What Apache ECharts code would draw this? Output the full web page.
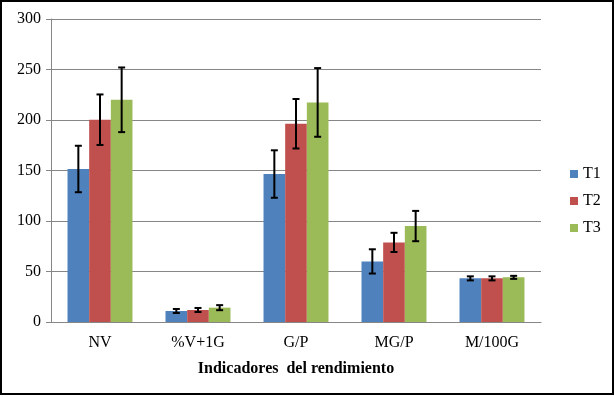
<!DOCTYPE html>
<html>
<head>
<meta charset="utf-8">
<script src="https://cdn.jsdelivr.net/npm/echarts@6/dist/echarts.min.js"></script>
<style>html,body{margin:0;padding:0;background:#fff}#c{width:615px;height:397px}</style>
</head>
<body>
<div id="c"></div>
<script>
var categories = ['NV', '%V+1G', 'G/P', 'MG/P', 'M/100G'];
var seriesNames = ['T1', 'T2', 'T3'];
var t1 = [151.5, 10.9, 146.5, 60, 43.2];
var t2 = [200.3, 11.9, 196.3, 78.8, 43.2];
var t3 = [220, 14.2, 217.4, 95, 44.2];
var err1 = [23, 2, 23.5, 12, 2];
var err2 = [25, 2, 24.5, 9.5, 2];
var err3 = [32, 2.5, 34, 15, 1.5];
var yTicks = [0, 50, 100, 150, 200, 250, 300];

var colors = ['#4F81BD', '#C0504D', '#9BBB59'];
var values = [t1, t2, t3];
var errors = [err1, err2, err3];
var catGap = 0.337;
var font = '"Liberation Serif", "Times New Roman", serif';

var series = [];
values.forEach(function (v, i) {
  series.push({
    name: seriesNames[i], type: 'bar', data: v,
    barGap: '0%', barCategoryGap: (catGap * 100) + '%',
    itemStyle: { color: colors[i] }, z: 2
  });
});
values.forEach(function (v, i) {
  var d = v.map(function (val, k) { return [k, val, errors[i][k]]; });
  series.push({
    type: 'custom', name: seriesNames[i] + '_err', data: d, z: 5,
    tooltip: { show: false },
    renderItem: function (params, api) {
      var k = api.value(0), val = api.value(1), e = api.value(2);
      var bw = api.size([1, 0])[0] * (1 - catGap) / 3;
      var off = (i - 1) * bw;
      var top = api.coord([k, val + e]);
      var bot = api.coord([k, val - e]);
      var x = top[0] + off;
      var cap = 3.5;
      var st = { stroke: '#000', lineWidth: 2 };
      return { type: 'group', children: [
        { type: 'line', shape: { x1: x, y1: top[1], x2: x, y2: bot[1] }, style: st },
        { type: 'line', shape: { x1: x - cap, y1: top[1], x2: x + cap, y2: top[1] }, style: st },
        { type: 'line', shape: { x1: x - cap, y1: bot[1], x2: x + cap, y2: bot[1] }, style: st }
      ]};
    }
  });
});

var chart = echarts.init(document.getElementById('c'));
chart.setOption({
  animation: false,
  textStyle: { fontFamily: font },
  grid: { left: 51, right: 74, top: 19, bottom: 75, containLabel: false },
  legend: {
    data: seriesNames, orient: 'vertical', left: 565, top: 161,
    itemWidth: 8, itemHeight: 8, itemGap: 11, icon: 'rect',
    textStyle: { fontFamily: font, fontSize: 16, color: '#000' }
  },
  xAxis: {
    type: 'category', data: categories,
    name: 'Indicadores  del rendimiento', nameLocation: 'middle', nameGap: 39,
    nameTextStyle: { fontFamily: font, fontSize: 16, fontWeight: 'bold', color: '#000' },
    axisLine: { lineStyle: { color: '#868686', width: 1 } },
    axisTick: { show: false },
    axisLabel: { fontFamily: font, fontSize: 16, color: '#000', margin: 13 }
  },
  yAxis: {
    type: 'value', min: yTicks[0], max: yTicks[yTicks.length - 1], interval: 50,
    axisLine: { show: true, lineStyle: { color: '#868686', width: 1 } },
    axisTick: { show: true, length: 5, lineStyle: { color: '#868686' } },
    splitLine: { lineStyle: { color: '#868686', width: 1 } },
    axisLabel: { fontFamily: font, fontSize: 16, color: '#000', margin: 10 }
  },
  graphic: [{
    type: 'rect', shape: { x: 1, y: 1, width: 612, height: 393 },
    style: { fill: null, stroke: '#000', lineWidth: 2 }, silent: true, z: 100
  }],
  series: series
});
</script>
</body>
</html>
